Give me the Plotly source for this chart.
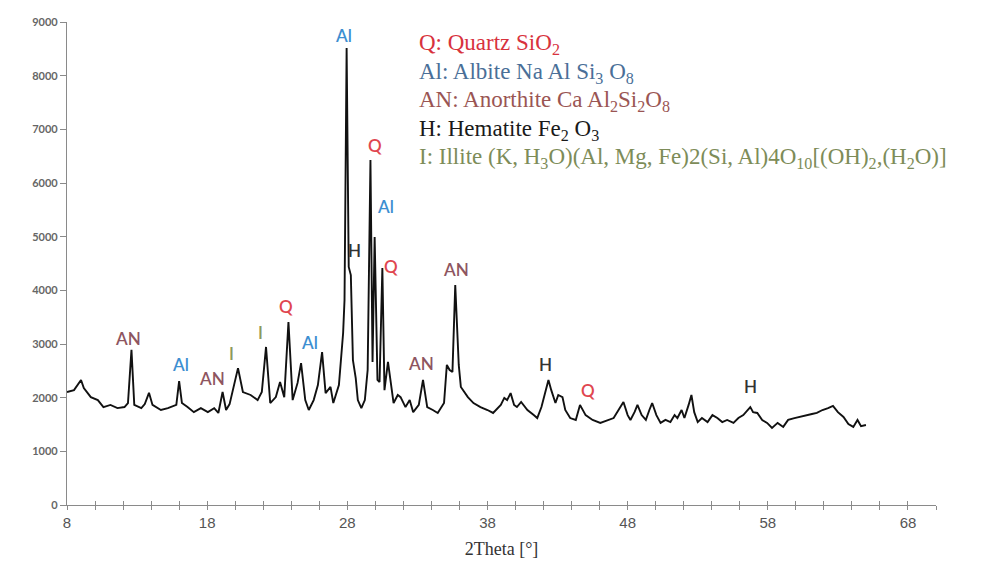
import plotly.graph_objects as go

two_theta = [8.0, 8.5, 9.0, 9.2, 9.7, 10.2, 10.6, 11.1, 11.6, 12.1, 12.35, 12.6, 12.8, 13.3, 13.55,
             13.85, 14.1, 14.7, 15.2, 15.8, 16.0, 16.2, 16.6, 17.05, 17.55, 18.05, 18.5, 18.8, 19.1,
             19.35, 19.6, 19.9, 20.2, 20.55, 21.1, 21.6, 21.9, 22.2, 22.5, 22.9, 23.2, 23.5, 23.8,
             24.1, 24.45, 24.7, 25.0, 25.25, 25.6, 25.9, 26.2, 26.45, 26.8, 27.0, 27.4, 27.7, 27.8,
             27.95, 28.1, 28.25, 28.4, 28.6, 28.75, 29.0, 29.25, 29.45, 29.65, 29.8, 29.95, 30.15,
             30.3, 30.5, 30.65, 30.9, 31.1, 31.3, 31.6, 31.8, 32.15, 32.45, 32.7, 33.1, 33.4, 33.7,
             34.1, 34.45, 34.9, 35.1, 35.3, 35.5, 35.7, 35.95, 36.1, 36.6, 37.0, 37.5, 38.0, 38.4,
             38.95, 39.2, 39.4, 39.65, 39.9, 40.1, 40.4, 40.85, 41.3, 41.55, 41.85, 42.15, 42.35,
             42.55, 42.85, 43.05, 43.35, 43.55, 43.9, 44.3, 44.6, 45.0, 45.5, 46.05, 46.55, 47.0,
             47.35, 47.7, 48.0, 48.2, 48.5, 48.7, 49.0, 49.3, 49.55, 49.75, 50.05, 50.35, 50.7,
             51.05, 51.35, 51.55, 51.85, 52.05, 52.35, 52.55, 52.75, 53.0, 53.3, 53.7, 54.05, 54.4,
             54.75, 55.1, 55.55, 55.9, 56.25, 56.55, 56.75, 56.95, 57.25, 57.6, 57.95, 58.3, 58.7,
             59.1, 59.45, 59.9, 60.3, 60.75, 61.15, 61.5, 61.9, 62.3, 62.65, 63.0, 63.4, 63.75,
             64.1, 64.4, 64.65, 65.0]
intensity = [2105, 2140, 2330, 2180, 2010, 1955, 1825, 1865, 1805, 1825, 1900, 2890, 1865, 1805, 1880,
             2090, 1865, 1770, 1805, 1865, 2310, 1900, 1825, 1730, 1805, 1730, 1805, 1715, 2105,
             1770, 1880, 2235, 2550, 2105, 2050, 1955, 2105, 2945, 1900, 2010, 2290, 2010, 3410,
             1955, 2275, 2645, 1955, 1770, 1955, 2235, 2850, 2085, 2200, 1900, 2235, 3205, 3820,
             8515, 4435, 4285, 2700, 2365, 1955, 1805, 1955, 2515, 6430, 2665, 4995, 2330,
             2290, 4415, 2140, 2665, 2235, 1900, 2050, 2010, 1825, 1955, 1730, 1865, 2330, 1825,
             1770, 1715, 1900, 2610, 2515, 2480, 4100, 2610, 2200, 2010, 1900, 1825, 1770, 1715,
             1865, 1995, 1955, 2085, 1865, 1825, 1920, 1770, 1675, 1620, 1825, 2105, 2330,
             2140, 1900, 2050, 2010, 1770, 1620, 1585, 1865, 1675, 1585, 1530, 1585, 1620,
             1770, 1920, 1675, 1585, 1735, 1865, 1675, 1585, 1770, 1900, 1675, 1530, 1585,
             1545, 1675, 1620, 1770, 1620, 1865, 2050, 1730, 1545, 1620, 1545, 1675, 1620,
             1545, 1585, 1530, 1620, 1675, 1770, 1825, 1730, 1715, 1585, 1530, 1435, 1530,
             1455, 1585, 1620, 1640, 1675, 1695, 1715, 1770, 1805, 1845, 1730, 1640, 1510,
             1455, 1585, 1470, 1490]

# Peak labels
peak_labels = ["AN", "Al", "AN", "I", "I", "Q", "Al", "Al", "H", "Q", "Al", "Q", "AN", "AN", "H", "Q", "H"]
peak_x = [12.35, 16.1, 18.35, 19.75, 21.8, 23.6, 25.3, 27.75, 28.5, 29.95, 30.75, 31.15, 33.25, 35.75, 42.15, 45.15, 56.75]
peak_y = [3110, 2610, 2365, 2830, 3210, 3690, 3020, 8740, 4750, 6690, 5570, 4435, 2645, 4380, 2610, 2125, 2215]

phase_colors = {"Q": "#e0464f", "Al": "#3d8fd1", "AN": "#8e5560", "H": "#333333", "I": "#8c9a5c"}

legend_lines = [
    "Q: Quartz SiO<sub>2</sub>",
    "Al: Albite Na Al Si<sub>3</sub> O<sub>8</sub>",
    "AN: Anorthite Ca Al<sub>2</sub>Si<sub>2</sub>O<sub>8</sub>",
    "H: Hematite Fe<sub>2</sub> O<sub>3</sub>",
    "I: Illite (K, H<sub>3</sub>O)(Al, Mg, Fe)2(Si, Al)4O<sub>10</sub>[(OH)<sub>2</sub>,(H<sub>2</sub>O)]",
]
legend_colors = ["#d8323d", "#4a6f98", "#9a5553", "#1a1a1a", "#7d8c58"]

x_ticks = list(range(8, 71, 2))
x_ticktext = [str(v) if (v - 8) % 10 == 0 else "" for v in x_ticks]
y_ticks = list(range(0, 9001, 1000))

fig = go.Figure()
fig.add_trace(go.Scatter(x=two_theta, y=intensity, mode="lines",
                         line=dict(color="#111111", width=1.9), showlegend=False, hoverinfo="skip"))
# invisible trace on overlay axis so its ticks render
fig.add_trace(go.Scatter(x=[8, 70], y=[0, 0], xaxis="x2", mode="lines",
                         line=dict(width=0), showlegend=False, hoverinfo="skip"))

for lab, px, py in zip(peak_labels, peak_x, peak_y):
    fig.add_annotation(x=px, y=py, text=lab, showarrow=False,
                       font=dict(family="Lato, Open Sans, Arial, sans-serif", size=17,
                                 color=phase_colors[lab], weight=600))

# legend text block (paper coords, relative to plot area)
leg_x = 0.403
leg_y = [0.954, 0.895, 0.836, 0.777, 0.718]
for txt, col, yy in zip(legend_lines, legend_colors, leg_y):
    fig.add_annotation(x=leg_x, y=yy, xref="paper", yref="paper", xanchor="left", yanchor="middle",
                       text=txt, showarrow=False,
                       font=dict(family="Liberation Serif, Times New Roman, serif", size=23, color=col))

fig.update_layout(
    width=1006, height=572,
    margin=dict(l=67, r=70, t=22, b=67),
    paper_bgcolor="white", plot_bgcolor="white",
    xaxis=dict(range=[8, 70], tickvals=x_ticks, ticktext=x_ticktext, ticks="outside", ticklen=4,
               tickcolor="#8a8a8a", showline=True, linecolor="#8a8a8a", linewidth=1.2,
               showgrid=False, zeroline=False,
               tickfont=dict(family="Liberation Sans Narrow, Arial Narrow, sans-serif", size=15, color="#555555"),
               title=dict(text="2Theta [°]", font=dict(family="Liberation Serif, Times New Roman, serif",
                                                       size=18, color="#333333"), standoff=12)),
    xaxis2=dict(range=[8, 70], overlaying="x", anchor="y", side="bottom", tickvals=x_ticks,
                ticks="inside", ticklen=4, tickcolor="#8a8a8a", showticklabels=False,
                showgrid=False, zeroline=False, showline=False),
    yaxis=dict(range=[0, 9000], tickvals=y_ticks, ticks="outside", ticklen=6, tickcolor="#8a8a8a",
               showline=True, linecolor="#8a8a8a", linewidth=1.2, showgrid=False, zeroline=False,
               tickfont=dict(family="Lato, Open Sans, Arial, sans-serif", size=11, color="#666666",
                             weight=700)),
)

fig.write_html("out.html")
